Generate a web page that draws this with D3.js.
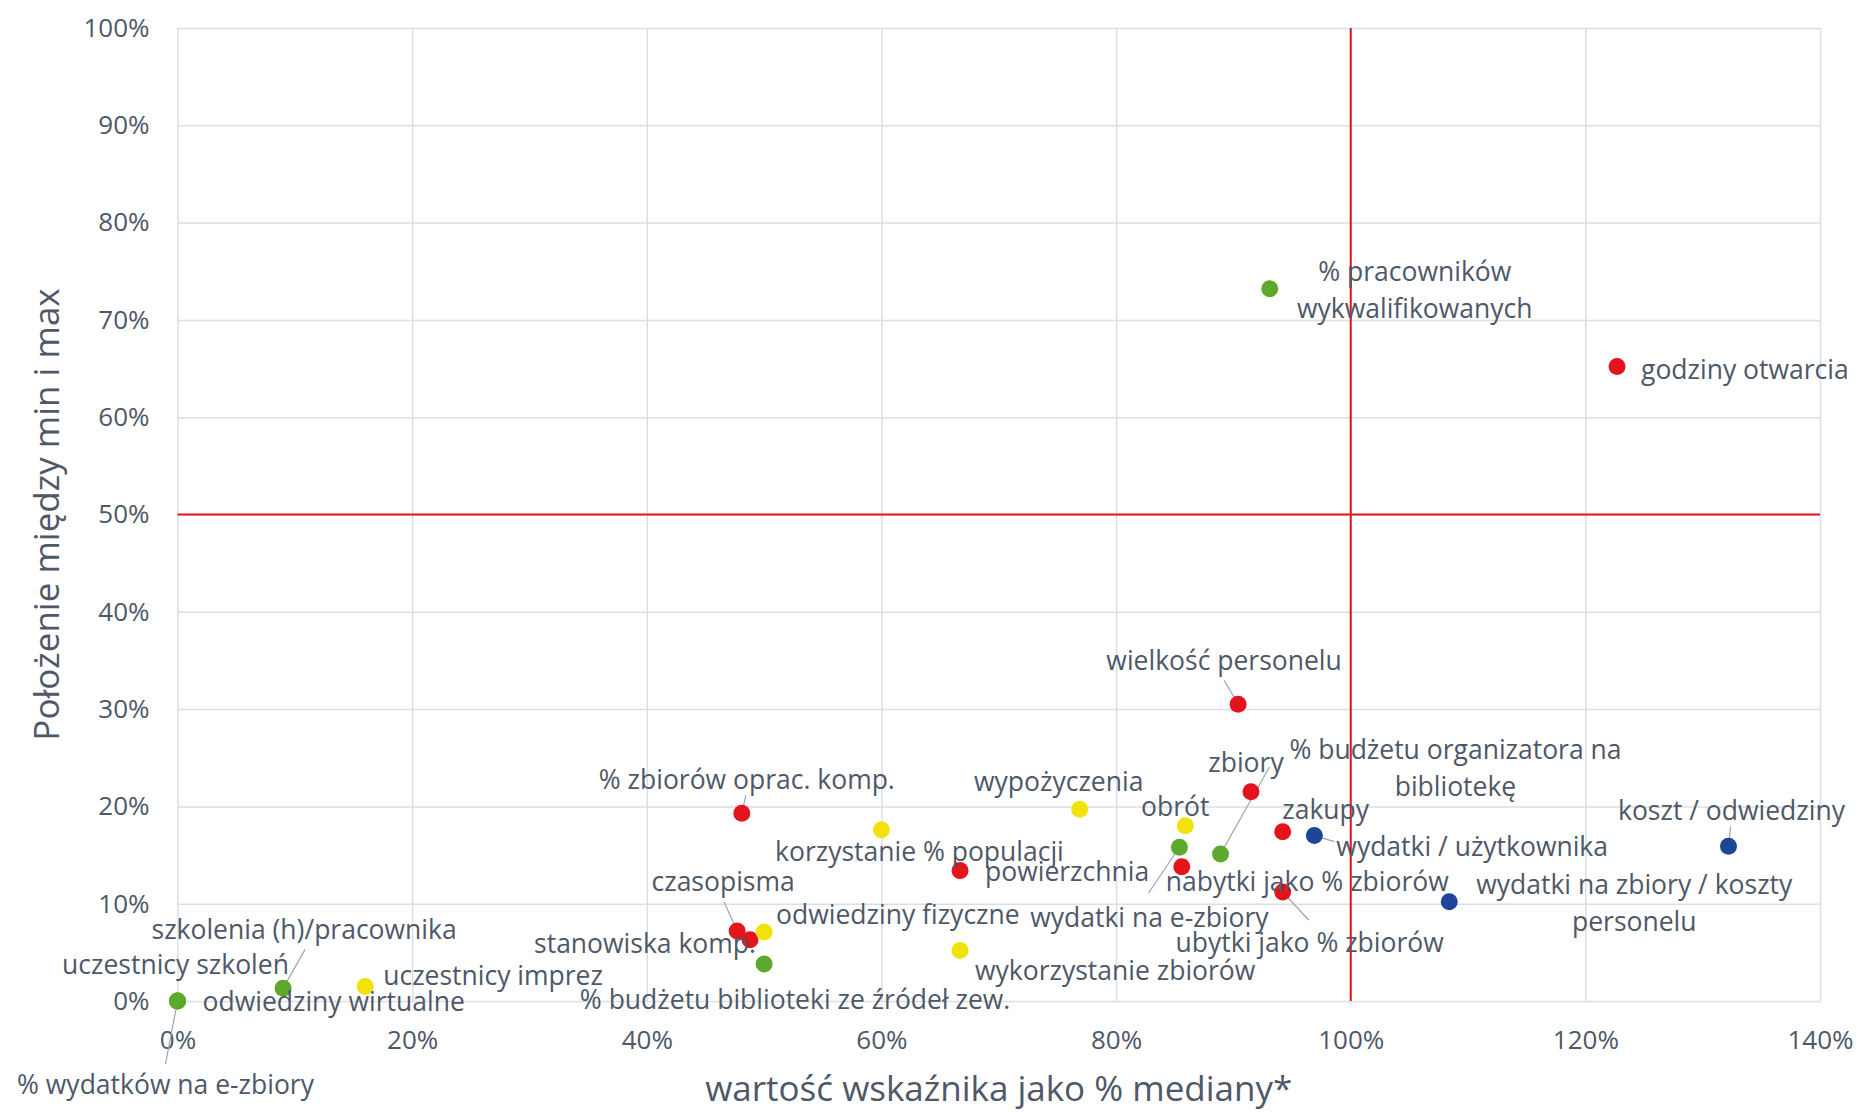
<!DOCTYPE html>
<html>
<head>
<meta charset="utf-8">
<script src="https://cdn.jsdelivr.net/npm/d3@7"></script>
<style>
  body { margin: 0; background: #fff; }
  svg text { font-family: 'Open Sans', sans-serif; fill: #4e5868; }
</style>
</head>
<body>
<svg id="chart" width="1863" height="1113"></svg>
<script>
// DATA ----------------------------------------------------------------------
const xTicks = [0, 0.2, 0.4, 0.6, 0.8, 1.0, 1.2, 1.4]
const yTicks = [0, 0.1, 0.2, 0.3, 0.4, 0.5, 0.6, 0.7, 0.8, 0.9, 1.0]

const xTitle = 'wartość wskaźnika jako % mediany*'
const yTitle = 'Położenie między min i max'

// zasoby (czerwone)
const zasobyLabels = ['godziny otwarcia', 'wielkość personelu', 'zbiory', '% zbiorów oprac. komp.',
  'zakupy', 'powierzchnia', 'nabytki jako % zbiorów', 'ubytki jako % zbiorów', 'czasopisma', 'stanowiska komp.']
const zasobyX = [1.227, 0.904, 0.915, 0.481, 0.942, 0.667, 0.856, 0.942, 0.477, 0.488]
const zasobyY = [0.652, 0.305, 0.215, 0.193, 0.174, 0.134, 0.138, 0.112, 0.072, 0.063]

// wykorzystanie (zolte)
const wykorzystanieLabels = ['wypożyczenia', 'obrót', 'korzystanie % populacji', 'odwiedziny fizyczne',
  'wykorzystanie zbiorów', 'uczestnicy imprez']
const wykorzystanieX = [0.769, 0.859, 0.600, 0.500, 0.667, 0.160]
const wykorzystanieY = [0.197, 0.180, 0.176, 0.071, 0.052, 0.015]

// efektywnosc (niebieskie)
const efektywnoscLabels = ['koszt / odwiedziny', 'wydatki / użytkownika', 'wydatki na zbiory / koszty\npersonelu']
const efektywnoscX = [1.322, 0.969, 1.084]
const efektywnoscY = [0.159, 0.170, 0.102]

// rozwoj (zielone)
const rozwojLabels = ['% pracowników\nwykwalifikowanych', '% budżetu organizatora na\nbibliotekę',
  'wydatki na e-zbiory', '% budżetu biblioteki ze źródeł zew.', 'szkolenia (h)/pracownika',
  'uczestnicy szkoleń', 'odwiedziny wirtualne', '% wydatków na e-zbiory']
const rozwojX = [0.931, 0.889, 0.854, 0.500, 0.090, 0, 0, 0]
const rozwojY = [0.732, 0.151, 0.158, 0.038, 0.013, 0, 0, 0]

// LABEL PLACEMENT (pixel offsets from the marker) --------------------------
const labelLayout = {
  'godziny otwarcia': { dx: 24, dy: 3, anchor: 'start' },
  'wielkość personelu': { dx: -14, dy: -44, leader: [-14, -24] },
  'zbiory': { dx: -5, dy: -29 },
  '% zbiorów oprac. komp.': { dx: 5, dy: -33, leader: [4, -18] },
  'zakupy': { dx: 43, dy: -22 },
  'powierzchnia': { dx: 25, dy: 1, anchor: 'start' },
  'nabytki jako % zbiorów': { dx: -16, dy: 15, anchor: 'start' },
  'ubytki jako % zbiorów': { dx: 27, dy: 51, leader: [26, 28] },
  'czasopisma': { dx: -14, dy: -49, leader: [-13, -29] },
  'stanowiska komp.': { dx: 6, dy: 4, anchor: 'end' },
  'wypożyczenia': { dx: -21, dy: -28 },
  'obrót': { dx: -10, dy: -19 },
  'korzystanie % populacji': { dx: 38, dy: 22 },
  'odwiedziny fizyczne': { dx: 12, dy: -17, anchor: 'start' },
  'wykorzystanie zbiorów': { dx: 15, dy: 20, anchor: 'start' },
  'uczestnicy imprez': { dx: 18, dy: -11, anchor: 'start' },
  'koszt / odwiedziny': { dx: 3, dy: -36, leader: [2, -20] },
  'wydatki / użytkownika': { dx: 22, dy: 11, anchor: 'start', leader: [20, 6] },
  'wydatki na zbiory / koszty\npersonelu': { dx: 185, dy: -17 },
  '% pracowników\nwykwalifikowanych': { dx: 145, dy: -17 },
  '% budżetu organizatora na\nbibliotekę': { dx: 235, dy: -104, leader: [49, -87] },
  'wydatki na e-zbiory': { dx: -30, dy: 70, leader: [-31, 46] },
  '% budżetu biblioteki ze źródeł zew.': { dx: 31, dy: 36 },
  'szkolenia (h)/pracownika': { dx: 21, dy: -59, leader: [22, -39] },
  'uczestnicy szkoleń': { dx: -2, dy: -36 },
  'odwiedziny wirtualne': { dx: 25, dy: 1, anchor: 'start' },
  '% wydatków na e-zbiory': { dx: -12, dy: 84, leader: [-12, 63] }
}

const series = [
  { name: 'zasoby', color: '#e3141c', labels: zasobyLabels, xs: zasobyX, ys: zasobyY },
  { name: 'efektywność', color: '#1e4597', labels: efektywnoscLabels, xs: efektywnoscX, ys: efektywnoscY },
  { name: 'wykorzystanie', color: '#f1e30a', labels: wykorzystanieLabels, xs: wykorzystanieX, ys: wykorzystanieY },
  { name: 'rozwój', color: '#5ca92b', labels: rozwojLabels, xs: rozwojX, ys: rozwojY }
]

// CHART ---------------------------------------------------------------------
const width = 1863
const height = 1113
const margin = { top: 28, right: 43, bottom: 112, left: 177.5 }
const aWidth = width - margin.left - margin.right
const aHeight = height - margin.top - margin.bottom

const svg = d3.select('#chart')

const xScale = d3.scaleLinear().domain([0, 1.4]).range([0, aWidth])
const yScale = d3.scaleLinear().domain([0, 1]).range([aHeight, 0])

const g = svg.append('g')
  .attr('transform', 'translate(' + margin.left + ',' + margin.top + ')')

const pct = d3.format('.0%')

// axes + gridlines
const xAxis = g.append('g')
  .attr('transform', 'translate(0,' + aHeight + ')')
  .call(d3.axisBottom(xScale).tickValues(xTicks).tickFormat(pct).tickSize(-aHeight).tickPadding(30))

const yAxis = g.append('g')
  .call(d3.axisLeft(yScale).tickValues(yTicks).tickFormat(pct).tickSize(-aWidth).tickPadding(28))

;[xAxis, yAxis].forEach(ax => {
  ax.select('.domain').remove()
  ax.selectAll('.tick line').attr('stroke', '#dadee6').attr('stroke-width', 1.5)
  ax.selectAll('.tick text')
    .attr('font-size', 26)
    .attr('fill', '#4e5868')
})

// reference lines: median (100%) and middle of range (50%)
g.append('line')
  .attr('x1', xScale(1)).attr('x2', xScale(1))
  .attr('y1', yScale(1)).attr('y2', yScale(0))
  .attr('stroke', '#e3141c').attr('stroke-width', 2)

g.append('line')
  .attr('x1', xScale(0)).attr('x2', xScale(1.4))
  .attr('y1', yScale(0.5)).attr('y2', yScale(0.5))
  .attr('stroke', '#e3141c').attr('stroke-width', 2)

// axis titles
svg.append('text')
  .attr('x', margin.left + aWidth / 2)
  .attr('y', 1089)
  .attr('dy', '0.35em')
  .attr('text-anchor', 'middle')
  .attr('font-size', 35)
  .text(xTitle)

svg.append('text')
  .attr('transform', 'translate(47,' + (margin.top + aHeight / 2) + ') rotate(-90)')
  .attr('dy', '0.35em')
  .attr('text-anchor', 'middle')
  .attr('font-size', 35)
  .text(yTitle)

// flatten series into points
const points = []
series.forEach(s => {
  s.labels.forEach((label, i) => {
    points.push({ label, color: s.color, px: xScale(s.xs[i]), py: yScale(s.ys[i]) })
  })
})

// leader lines
g.selectAll('.leader')
  .data(points.filter(d => labelLayout[d.label].leader))
  .enter()
  .append('line')
    .attr('class', 'leader')
    .attr('x1', d => d.px)
    .attr('y1', d => d.py)
    .attr('x2', d => d.px + labelLayout[d.label].leader[0])
    .attr('y2', d => d.py + labelLayout[d.label].leader[1])
    .attr('stroke', '#9ea4ad')
    .attr('stroke-width', 1.2)

// markers
g.selectAll('.dot')
  .data(points)
  .enter()
  .append('circle')
    .attr('class', 'dot')
    .attr('cx', d => d.px)
    .attr('cy', d => d.py)
    .attr('r', 8.5)
    .attr('fill', d => d.color)

// data labels
const labels = g.selectAll('.label')
  .data(points)
  .enter()
  .append('text')
    .attr('class', 'label')
    .attr('font-size', 26.5)
    .attr('text-anchor', d => labelLayout[d.label].anchor || 'middle')

labels.each(function (d) {
  const lay = labelLayout[d.label]
  d.label.split('\n').forEach((line, i) => {
    d3.select(this).append('tspan')
      .attr('x', d.px + lay.dx)
      .attr('y', d.py + lay.dy + i * 37)
      .attr('dy', '0.35em')
      .text(line)
  })
})
</script>
</body>
</html>
